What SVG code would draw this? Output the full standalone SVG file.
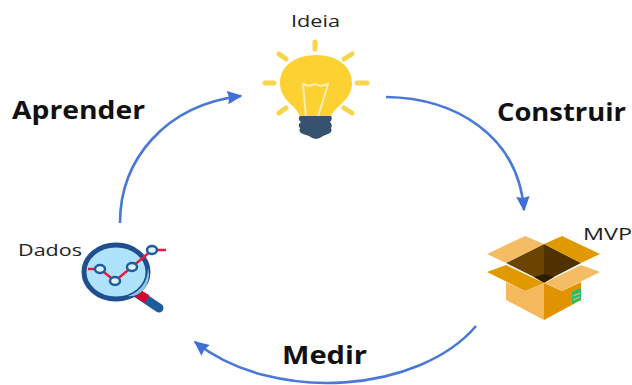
<svg xmlns="http://www.w3.org/2000/svg" width="632" height="385" viewBox="0 0 632 385">
<defs>
<marker id="arrow" viewBox="0 0 10 10" refX="9" refY="5" markerWidth="15" markerHeight="15" markerUnits="userSpaceOnUse" orient="auto"><path d="M0 0.5L10 5L0 9.5L1 5Z" fill="#3f6fd8"/></marker>
</defs>
<style>
.lbl{font-family:"Open Sans","Liberation Sans",sans-serif;font-size:17px;font-weight:500;fill:#222}
.big{font-family:"Open Sans","Liberation Sans",sans-serif;font-size:25px;font-weight:700;fill:#111}
.conn{fill:none;stroke:#4a78d6;stroke-width:2.6}
.ray{stroke:#f7d54a;stroke-width:5;stroke-linecap:round}
</style>
<rect width="632" height="385" fill="#fff"/>
<g id="connectors">
<path class="conn" marker-end="url(#arrow)" d="M386 97C455 98 518 135 524 210"/>
<path class="conn" marker-end="url(#arrow)" d="M476 326C420 392 275 405 195 342"/>
<path class="conn" marker-end="url(#arrow)" d="M120 223C120 160 165 105 241 96"/>
</g>
<g id="ideia">
<text class="lbl" x="291" y="27" textLength="49" lengthAdjust="spacingAndGlyphs">Ideia</text>
<g class="ray"><line x1="315" y1="42" x2="315" y2="49"/><line x1="279" y1="54" x2="286" y2="59"/><line x1="352" y1="54" x2="344" y2="59"/><line x1="265" y1="83" x2="274" y2="83"/><line x1="357" y1="83" x2="367" y2="83"/><line x1="279" y1="113" x2="286" y2="108"/><line x1="352" y1="113" x2="344" y2="108"/></g>
<path d="M300 117C297 105 280 101 280 83C280 66 295 55 316 55C337 55 352 66 352 83C352 101 335 105 331 117Z" fill="#fed133"/>
<path d="M306 117L303 84L309 86L315 84L321 86L328 84L318 117" fill="none" stroke="#fdeeb0" stroke-width="2"/>
<path d="M300 116H331Q333 119 330 122Q333 125 331 128Q333 132 328 134L323 136Q316 142 309 136L303 134Q298 132 300 128Q297 125 301 122Q297 119 300 116Z" fill="#35536e"/>
</g>
<g id="mvp">
<text class="lbl" x="583" y="240" textLength="49" lengthAdjust="spacingAndGlyphs">MVP</text>
<path d="M506 263L544 244L544 282Z" fill="#6b4400"/>
<path d="M544 244L581 263L544 282Z" fill="#4f3200"/>
<path d="M534 277L544 274L554 277L544 283Z" fill="#2e1c00"/>
<path d="M506 282V300L544 320V283L525 291Z" fill="#f4b95c"/>
<path d="M544 283L562 291L581 282V300L544 320Z" fill="#e09200"/>
<path d="M525 236L544 244L506 263L487 254Z" fill="#f5bd63"/>
<path d="M562 236L600 254L581 263L544 244Z" fill="#e09a00"/>
<path d="M506 265L544 283L525 291L487 272Z" fill="#e09a00"/>
<path d="M581 265L600 272L562 291L544 283Z" fill="#f5bd63"/>
<path d="M572 292L581 288V300L572 304Z" fill="#2dbb6c"/>
<path d="M573 296L580 293M573 300L580 297" stroke="#f2c36a" stroke-width="1"/>
</g>
<g id="dados">
<text class="lbl" x="18" y="256" textLength="64" lengthAdjust="spacingAndGlyphs">Dados</text>
<line x1="138" y1="294" x2="159" y2="308" stroke="#1f5c9e" stroke-width="9" stroke-linecap="round"/>
<line x1="137" y1="293" x2="147" y2="299" stroke="#d90429" stroke-width="9"/>
<ellipse cx="116" cy="272" rx="32" ry="27" fill="#afe3fb" stroke="#1f4f8f" stroke-width="5"/>
<path d="M128 296C140 292 148 282 148 268C152 282 142 298 128 296Z" fill="#8ec7e0"/>
<path d="M88 269H100L115 281L132 267L152 250H166" fill="none" stroke="#e9183f" stroke-width="2.5"/>
<g fill="#dff3fc" stroke="#1f5c9e" stroke-width="2.5"><ellipse cx="100" cy="269" rx="5" ry="4"/><ellipse cx="115" cy="281" rx="5" ry="4"/><ellipse cx="132" cy="267" rx="5" ry="4"/><ellipse cx="152" cy="250" rx="5" ry="4"/></g>
</g>
<text class="big" x="12" y="119" textLength="133" lengthAdjust="spacingAndGlyphs">Aprender</text>
<text class="big" x="497" y="121" textLength="129" lengthAdjust="spacingAndGlyphs">Construir</text>
<text class="big" x="282" y="364" textLength="85" lengthAdjust="spacingAndGlyphs">Medir</text>
</svg>
